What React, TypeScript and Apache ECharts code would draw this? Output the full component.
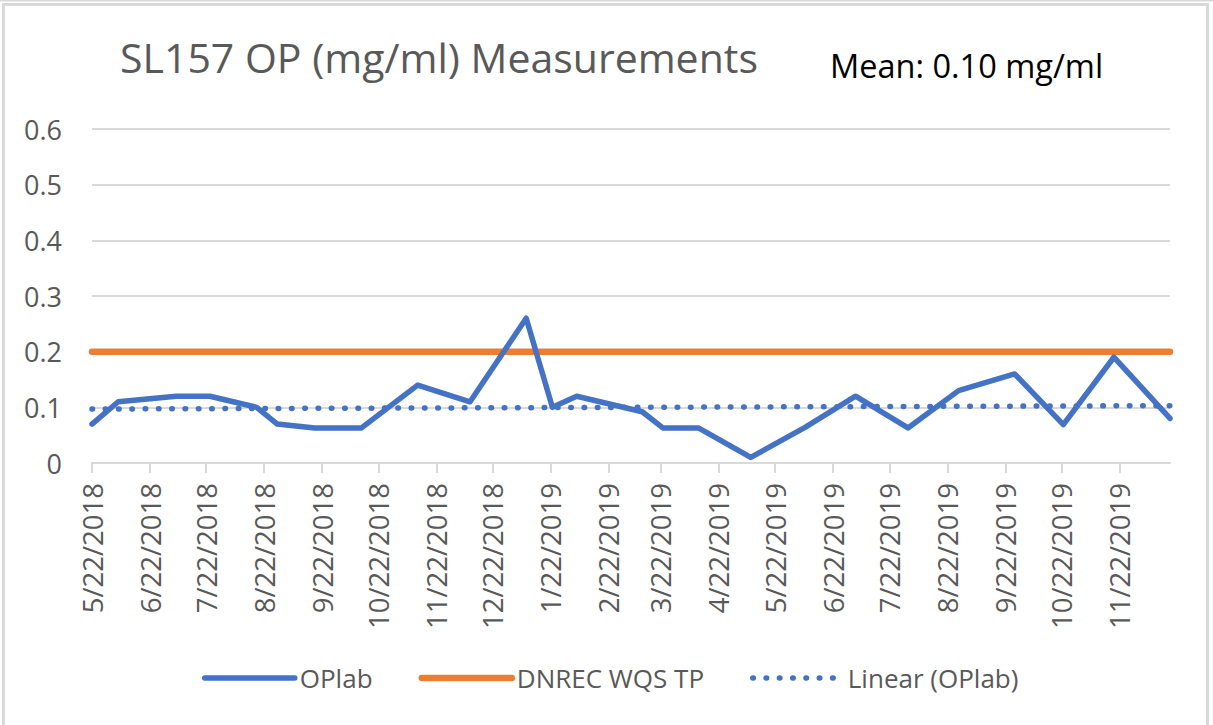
import React, { useEffect, useRef } from "react";
import * as echarts from "echarts";

const sampleDates = [
  "2018-05-22", "2018-06-05", "2018-07-06", "2018-07-24", "2018-08-18",
  "2018-08-29", "2018-09-18", "2018-10-13", "2018-11-12", "2018-12-10",
  "2019-01-09", "2019-01-23", "2019-02-05", "2019-03-12", "2019-03-23",
  "2019-04-11", "2019-05-09", "2019-06-07", "2019-07-04", "2019-08-01",
  "2019-08-28", "2019-09-27", "2019-10-23", "2019-11-19", "2019-12-19",
];
const opLab = [
  0.07, 0.11, 0.12, 0.12, 0.1,
  0.07, 0.063, 0.063, 0.14, 0.11,
  0.26, 0.1, 0.12, 0.092, 0.063,
  0.063, 0.01, 0.064, 0.12, 0.063,
  0.13, 0.16, 0.069, 0.19, 0.08,
];
const standardTP = [0.2, 0.2];
const trendEnds = [0.097, 0.103];
const tickDates = [
  "2018-05-22", "2018-06-22", "2018-07-22", "2018-08-22", "2018-09-22",
  "2018-10-22", "2018-11-22", "2018-12-22", "2019-01-22", "2019-02-22",
  "2019-03-22", "2019-04-22", "2019-05-22", "2019-06-22", "2019-07-22",
  "2019-08-22", "2019-09-22", "2019-10-22", "2019-11-22",
];
const yTicks = [0, 0.1, 0.2, 0.3, 0.4, 0.5, 0.6];
const titleText = "SL157 OP (mg/ml) Measurements";
const meanText = "Mean: 0.10 mg/ml";
const seriesNames = ["OPlab", "DNREC WQS TP", "Linear (OPlab)"];

const FONT = "'Open Sans', sans-serif";
const GREY_TEXT = "#595959";
const GRID = "#d9d9d9";
const BLUE = "#4472C4";
const ORANGE = "#ED7D31";

function toTs(s: string): number {
  const [y, m, d] = s.split("-").map(Number);
  return new Date(y, m - 1, d).getTime();
}

export default function App() {
  const ref = useRef<HTMLDivElement>(null);

  useEffect(() => {
    document.body.style.margin = "0";
    if (!ref.current) return;
    const chart = echarts.init(ref.current, null, { renderer: "svg" });
    const first = toTs(sampleDates[0]);
    const last = toTs(sampleDates[sampleDates.length - 1]);
    const ticks = tickDates.map(toTs);

    chart.setOption({
      animation: false,
      backgroundColor: "#ffffff",
      textStyle: { fontFamily: FONT },
      graphic: [
        {
          type: "line",
          shape: { x1: 0, y1: 0.75, x2: 1213, y2: 0.75 },
          style: { stroke: GRID, lineWidth: 1.5 },
          silent: true,
        },
        {
          type: "rect",
          shape: { x: 3.5, y: 4.5, width: 1204, height: 740 },
          style: { fill: "none", stroke: GRID, lineWidth: 3 },
          silent: true,
        },
        {
          type: "text",
          x: 439,
          y: 57,
          style: {
            text: titleText,
            fill: GREY_TEXT,
            fontSize: 41,
            fontFamily: FONT,
            align: "center",
            verticalAlign: "middle",
          },
          silent: true,
        },
        {
          type: "text",
          x: 830,
          y: 65,
          style: {
            text: meanText,
            fill: "#000000",
            fontSize: 32.5,
            fontFamily: FONT,
            align: "left",
            verticalAlign: "middle",
          },
          silent: true,
        },
      ],
      grid: { left: 92, right: 43, top: 129, bottom: 262, containLabel: false },
      legend: {
        left: 202,
        top: 665,
        padding: 0,
        itemWidth: 90,
        itemHeight: 14,
        itemGap: 46,
        data: seriesNames,
        itemStyle: { opacity: 0 },
        lineStyle: { width: "inherit", type: "inherit", cap: "round" },
        textStyle: { color: GREY_TEXT, fontSize: 26, fontFamily: FONT },
      },
      xAxis: {
        type: "value",
        min: first,
        max: last,
        scale: true,
        splitLine: { show: false },
        axisLine: { show: true, lineStyle: { color: GRID, width: 2 } },
        axisTick: {
          show: true,
          length: 10,
          customValues: ticks,
          lineStyle: { color: GRID, width: 2 },
        },
        axisLabel: {
          customValues: ticks,
          rotate: 90,
          margin: 20,
          color: GREY_TEXT,
          fontSize: 27.5,
          fontFamily: FONT,
          formatter: (v: number) => {
            const d = new Date(v);
            return `${d.getMonth() + 1}/${d.getDate()}/${d.getFullYear()}`;
          },
        },
      },
      yAxis: {
        type: "value",
        min: yTicks[0],
        max: yTicks[yTicks.length - 1],
        interval: 0.1,
        axisLine: { show: false },
        axisTick: { show: false },
        splitLine: { show: true, lineStyle: { color: GRID, width: 2 } },
        axisLabel: {
          margin: 30,
          color: GREY_TEXT,
          fontSize: 27,
          fontFamily: FONT,
          formatter: (v: number) => (v === 0 ? "0" : v.toFixed(1)),
        },
      },
      series: [
        {
          name: seriesNames[0],
          type: "line",
          data: sampleDates.map((d, i) => [toTs(d), opLab[i]]),
          symbol: "none",
          color: BLUE,
          lineStyle: { color: BLUE, width: 5.5, join: "round", cap: "round" },
          z: 3,
        },
        {
          name: seriesNames[1],
          type: "line",
          data: [
            [first, standardTP[0]],
            [last, standardTP[1]],
          ],
          symbol: "none",
          color: ORANGE,
          lineStyle: { color: ORANGE, width: 6.5, cap: "round" },
          z: 2,
        },
        {
          name: seriesNames[2],
          type: "line",
          data: [
            [first, trendEnds[0]],
            [last, trendEnds[1]],
          ],
          symbol: "none",
          color: BLUE,
          lineStyle: { color: BLUE, width: 5.5, type: [0.5, 12.8], cap: "round" },
          z: 4,
        },
      ],
    });

    return () => chart.dispose();
  }, []);

  return <div ref={ref} style={{ width: 1213, height: 725 }} />;
}
